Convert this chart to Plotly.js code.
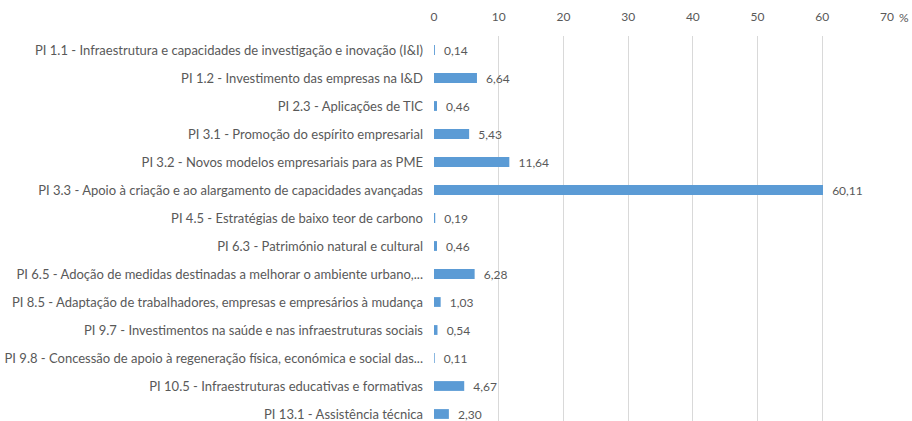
<!DOCTYPE html>
<html><head><meta charset="utf-8">
<script src="https://cdn.plot.ly/plotly-3.0.1.min.js"></script>
<style>html,body{margin:0;padding:0;background:#fff;}#chart{width:912px;height:421px;}</style>
</head><body><div id="chart"></div>
<script>
const categories = [
  "PI 1.1 - Infraestrutura e capacidades de investigação e inovação (I&I)",
  "PI 1.2 - Investimento das empresas na I&D",
  "PI 2.3 - Aplicações de TIC",
  "PI 3.1 - Promoção do espírito empresarial",
  "PI 3.2 - Novos modelos empresariais para as PME",
  "PI 3.3 - Apoio à criação e ao alargamento de capacidades avançadas",
  "PI 4.5 - Estratégias de baixo teor de carbono",
  "PI 6.3 - Património natural e cultural",
  "PI 6.5 - Adoção de medidas destinadas a melhorar o ambiente urbano,...",
  "PI 8.5 - Adaptação de trabalhadores, empresas e empresários à mudança",
  "PI 9.7 - Investimentos na saúde e nas infraestruturas sociais",
  "PI 9.8 - Concessão de apoio à regeneração física, económica e social das...",
  "PI 10.5 - Infraestruturas educativas e formativas",
  "PI 13.1 - Assistência técnica"
];
const values = [0.14, 6.64, 0.46, 5.43, 11.64, 60.11, 0.19, 0.46, 6.28, 1.03, 0.54, 0.11, 4.67, 2.30];
const tickVals = [0, 10, 20, 30, 40, 50, 60, 70];
const unitLabel = "%";

const labels = values.map(v => '\u00a0\u00a0' + v.toFixed(2).replace('.', ','));
const FONT = "Lato, 'Open Sans', sans-serif";
const GREY = "#595959";

const trace = {
  type: 'bar',
  orientation: 'h',
  x: values,
  y: categories,
  width: 0.35,
  marker: {color: '#5B9BD5'},
  text: labels,
  textposition: 'outside',
  constraintext: 'none',
  cliponaxis: false,
  textfont: {family: FONT, size: 12, color: GREY},
  hoverinfo: 'none'
};

const layout = {
  width: 912, height: 421,
  margin: {l: 434, r: 25, t: 36, b: 0},
  paper_bgcolor: '#fff', plot_bgcolor: '#fff',
  showlegend: false,
  font: {family: FONT, size: 12, color: GREY},
  xaxis: {
    side: 'top', range: [0, 70], tickvals: tickVals,
    showgrid: true, gridcolor: '#D9D9D9', gridwidth: 1,
    zeroline: false, showline: false, ticks: '',
    ticklabelstandoff: 12,
    tickfont: {family: FONT, size: 12, color: GREY},
    fixedrange: true
  },
  yaxis: {
    type: 'category', range: [13.25, -0.5], automargin: false,
    showgrid: false, zeroline: false, showline: false, ticks: '',
    ticklabelstandoff: 10,
    tickfont: {family: FONT, size: 13, color: GREY},
    fixedrange: true
  },
  annotations: [{
    text: unitLabel, xref: 'paper', yref: 'paper',
    x: 1.022, y: 1, yshift: 19, xanchor: 'left', yanchor: 'middle',
    showarrow: false, font: {family: FONT, size: 12, color: GREY}
  }]
};

Plotly.newPlot('chart', [trace], layout, {displayModeBar: false, staticPlot: true});
</script></body></html>
